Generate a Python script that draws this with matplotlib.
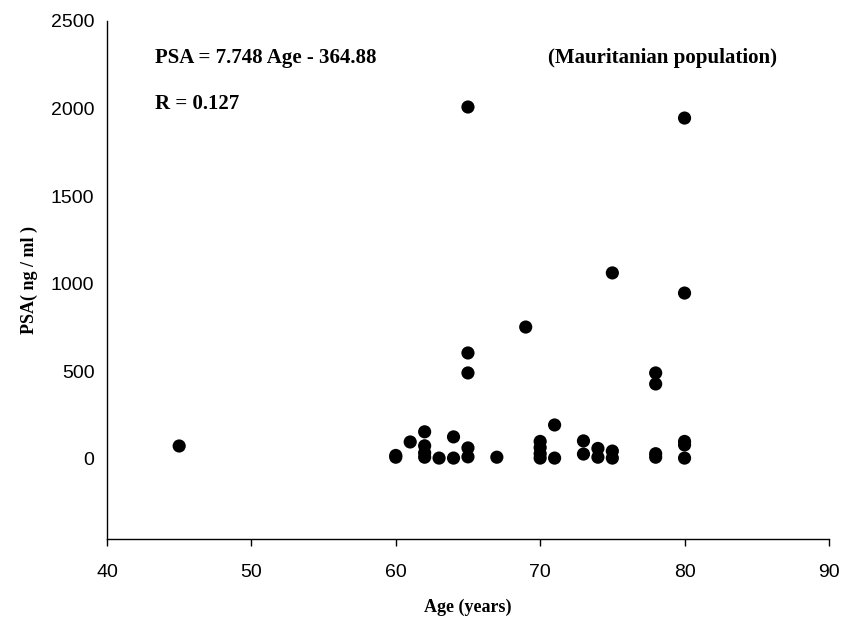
import matplotlib
matplotlib.use('Agg')
import matplotlib.pyplot as plt

# age (years) and PSA (ng/ml)
age = [45,
       60, 60,
       61,
       62, 62, 62, 62,
       63,
       64, 64,
       65, 65, 65, 65, 65,
       67,
       69,
       70, 70, 70, 70,
       71, 71,
       73, 73,
       74, 74,
       75, 75, 75,
       78, 78, 78, 78,
       80, 80, 80, 80, 80]
psa = [74,
       10, 20,
       97,
       155, 75, 35, 10,
       5,
       126, 5,
       2009, 605, 491, 63, 12,
       10,
       753,
       100, 65, 30, 5,
       194, 5,
       103, 28,
       60, 10,
       1062, 45, 5,
       491, 428, 30, 10,
       1946, 947, 100, 80, 5]

x_ticks = [40, 50, 60, 70, 80, 90]
y_ticks = [0, 500, 1000, 1500, 2000, 2500]

equation = 'PSA = 7.748 Age - 364.88'
corr = 'R = 0.127'
population = '(Mauritanian population)'

serif = 'Liberation Serif'
sans = 'Liberation Sans'

W, H = 845, 623
fig = plt.figure(figsize=(W / 100, H / 100), dpi=100)
ax = fig.add_axes([0.1266, 0.1348, 0.8544, 0.8315])

ax.scatter(age, psa, s=90, color='black', edgecolors='none', zorder=3)

ax.set_xlim(40, 90)
ax.set_ylim(-457, 2500)
ax.set_xticks(x_ticks)
ax.set_yticks(y_ticks)

for side in ('top', 'right'):
    ax.spines[side].set_visible(False)
for side in ('left', 'bottom'):
    ax.spines[side].set_linewidth(1.0)
    ax.spines[side].set_color('black')

ax.tick_params(axis='x', direction='out', length=5, width=1.0, pad=13,
               labelsize=14)
ax.tick_params(axis='y', length=0, pad=9, labelsize=14)
for lbl in ax.get_xticklabels() + ax.get_yticklabels():
    lbl.set_fontfamily(sans)

ax.set_xlabel('Age (years)', fontfamily=serif, fontweight='bold',
              fontsize=13, labelpad=13)
ax.set_ylabel('PSA( ng / ml )', fontfamily=serif, fontweight='bold',
              fontsize=13, labelpad=9)

note = dict(fontfamily=serif, fontweight='bold', fontsize=15, va='center')
fig.text(155 / W, 1 - 58 / H, equation, **note)
fig.text(155 / W, 1 - 104 / H, corr, **note)
fig.text(548 / W, 1 - 58 / H, population, **note)

plt.savefig('out.png', dpi=100)
